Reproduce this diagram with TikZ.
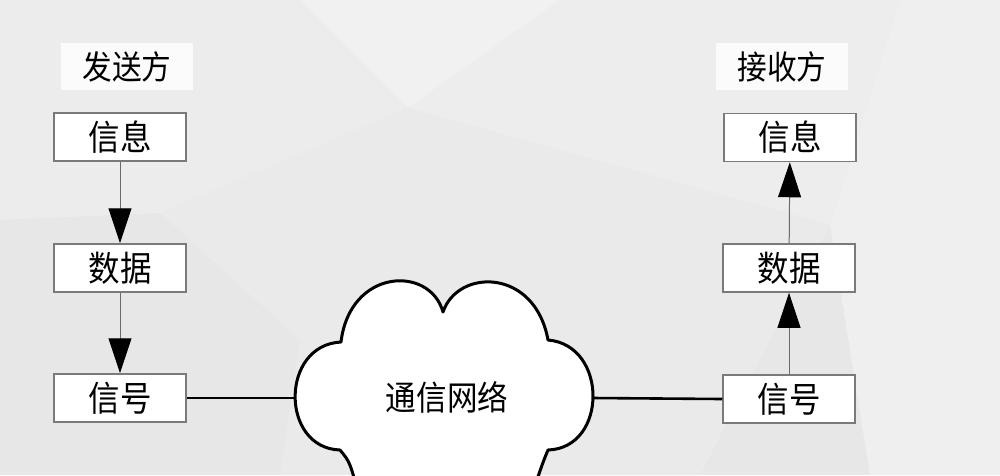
\documentclass[tikz,border=0pt]{standalone}
\usepackage{fontspec}
\setmainfont[FakeStretch=0.9]{Noto Sans CJK SC}
\usetikzlibrary{arrows.meta}
\definecolor{bgbase}{HTML}{E7E7E7}
\definecolor{boxline}{HTML}{7A7A7A}
\definecolor{arrline}{HTML}{6A6A6A}
\tikzset{
  stagebox/.style={draw=boxline, line width=1.5pt, fill=white, minimum width=132pt, minimum height=48pt, inner sep=0pt, font=\fontsize{35}{35}\selectfont},
  sidelabel/.style={fill=white!85!bgbase, minimum width=132pt, minimum height=47pt, inner sep=0pt, font=\fontsize{33}{33}\selectfont},
  flow/.style={draw=arrline, line width=1pt, -{Triangle[length=35pt,width=23pt,black]}},
  link/.style={draw=black, line width=2.6pt},
  cloudline/.style={draw=black, line width=3pt, fill=white, line join=round}
}
\begin{document}
\begin{tikzpicture}[x=1pt,y=-1pt]
\useasboundingbox (0,0) rectangle (1000,475);
% background facets
\fill[bgbase] (0,0) rectangle (1000,475);
\fill[white!40!bgbase] (300,0) -- (408,108) -- (560,0) -- cycle;
\fill[white!25!bgbase] (408,108) -- (560,0) -- (900,0) -- (830,225) -- cycle;
\fill[white!12!bgbase] (160,213) -- (408,108) -- (830,225) -- (700,475) -- (280,475) -- (300,340) -- cycle;
\fill[white!35!bgbase] (900,0) -- (1000,0) -- (1000,475) -- (870,475) -- (830,225) -- cycle;
\fill[white!20!bgbase] (0,0) -- (300,0) -- (408,108) -- (160,213) -- (0,220) -- cycle;

% side labels
\node[sidelabel] (sender) at (127,66.5) {发送方};
\node[sidelabel] (receiver) at (782,66.5) {接收方};

% sender stack
\node[stagebox] (infoL) at (120,137) {信息};
\node[stagebox] (dataL) at (120,268) {数据};
\node[stagebox] (sigL) at (120,398) {信号};
% receiver stack
\node[stagebox] (infoR) at (790,137.5) {信息};
\node[stagebox] (dataR) at (789,268) {数据};
\node[stagebox] (sigR) at (789,399) {信号};

% cloud
\begin{scope}
\clip (0,0) rectangle (1000,475);
\path[cloudline] (340,450)
  .. controls (280,448) and (280,345) .. (341,342)
  .. controls (350,268) and (430,265) .. (443,312)
  .. controls (458,268) and (535,268) .. (548,340)
  .. controls (608,345) and (608,448) .. (548,450)
  .. controls (543,462) .. (530,500)
  -- (360,500)
  .. controls (350,462) .. cycle;
\end{scope}
\coordinate (cloudW) at (295,398);
\coordinate (cloudE) at (593,398);
\node[font=\fontsize{34}{34}\selectfont, inner sep=0pt] (net) at (447,397) {通信网络};

% connectors
\draw[flow] (infoL) -- (dataL);
\draw[flow] (dataL) -- (sigL);
\draw[flow] (sigR) -- (dataR);
\draw[flow] (dataR) -- (infoR);
\draw[link] (sigL.east) -- (cloudW);
\draw[link] (cloudE) -- (sigR.west);
\end{tikzpicture}
\end{document}
